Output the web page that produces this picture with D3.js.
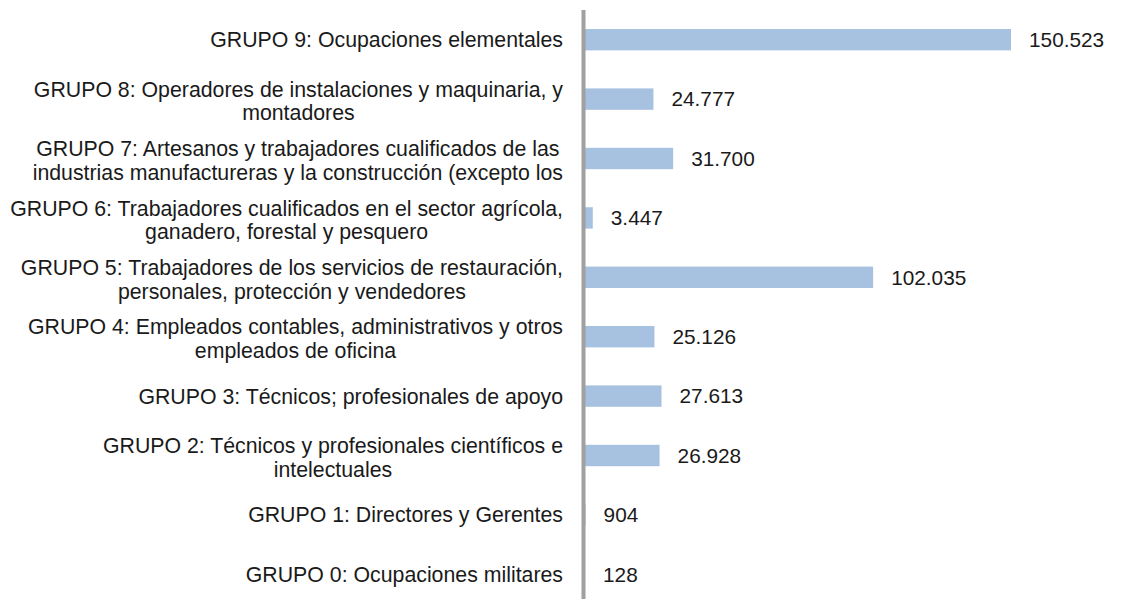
<!DOCTYPE html>
<html><head><meta charset="utf-8">
<script src="https://cdn.jsdelivr.net/npm/d3@7"></script>
<style>html,body{margin:0;padding:0;background:#fff;}svg{display:block;}</style>
</head><body>
<svg id="chart" width="1145" height="599"></svg>
<script>
const categories = [
  ["GRUPO 9: Ocupaciones elementales"],
  ["GRUPO 8: Operadores de instalaciones y maquinaria, y", "montadores"],
  ["GRUPO 7: Artesanos y trabajadores cualificados de las", "industrias manufactureras y la construcción (excepto los"],
  ["GRUPO 6: Trabajadores cualificados en el sector agrícola,", "ganadero, forestal y pesquero"],
  ["GRUPO 5: Trabajadores de los servicios de restauración,", "personales, protección y vendedores"],
  ["GRUPO 4: Empleados contables, administrativos y otros", "empleados de oficina"],
  ["GRUPO 3: Técnicos; profesionales de apoyo"],
  ["GRUPO 2: Técnicos y profesionales científicos e", "intelectuales"],
  ["GRUPO 1: Directores y Gerentes"],
  ["GRUPO 0: Ocupaciones militares"]
];
const values = [150523, 24777, 31700, 3447, 102035, 25126, 27613, 26928, 904, 128];

const svg = d3.select("#chart");
const x0 = 583;
const x = d3.scaleLinear().domain([0, 150523]).range([x0, 1011]);
const y = d3.scaleBand().domain(d3.range(categories.length)).range([10, 604]).paddingInner(0.64).paddingOuter(0.32);
const loc = d3.formatLocale({decimal: ",", thousands: ".", grouping: [3], currency: ["", "€"]});
const fmt = loc.format(",d");
const font = "Liberation Sans, Arial, sans-serif";
const fs = 21.3;

svg.selectAll("rect.bar").data(values).join("rect")
  .attr("class", "bar")
  .attr("x", x0)
  .attr("y", (d, i) => y(i))
  .attr("width", d => x(d) - x0)
  .attr("height", y.bandwidth())
  .attr("fill", "#a7c1e0");

svg.append("line")
  .attr("x1", 583.5).attr("x2", 583.5).attr("y1", 10).attr("y2", 599)
  .attr("stroke", "#a0a0a0").attr("stroke-width", 4);

svg.selectAll("text.val").data(values).join("text")
  .attr("class", "val")
  .attr("x", d => Math.max(x(d), 585) + 18)
  .attr("y", (d, i) => y(i) + y.bandwidth() / 2)
  .attr("dy", "0.35em")
  .attr("font-family", font).attr("font-size", 20.8).attr("fill", "#1a1a1a")
  .text(d => fmt(d));

const lh = 23.5;
const right = 563;
const lab = svg.selectAll("text.cat").data(categories).join("text")
  .attr("class", "cat")
  .attr("text-anchor", "middle")
  .attr("font-family", font).attr("font-size", fs).attr("fill", "#1a1a1a");
lab.each(function(lines, i) {
  const cy = y(i) + y.bandwidth() / 2 + (lines.length > 1 ? 2 : 0);
  const start = cy - (lines.length - 1) * lh / 2;
  const t = d3.select(this);
  const spans = t.selectAll("tspan").data(lines).join("tspan")
    .attr("y", (d, k) => start + k * lh)
    .attr("dy", "0.35em")
    .text(d => d);
  let maxW = 0;
  spans.each(function() { maxW = Math.max(maxW, this.getComputedTextLength()); });
  spans.attr("x", right - maxW / 2);
});
</script>
</body></html>
